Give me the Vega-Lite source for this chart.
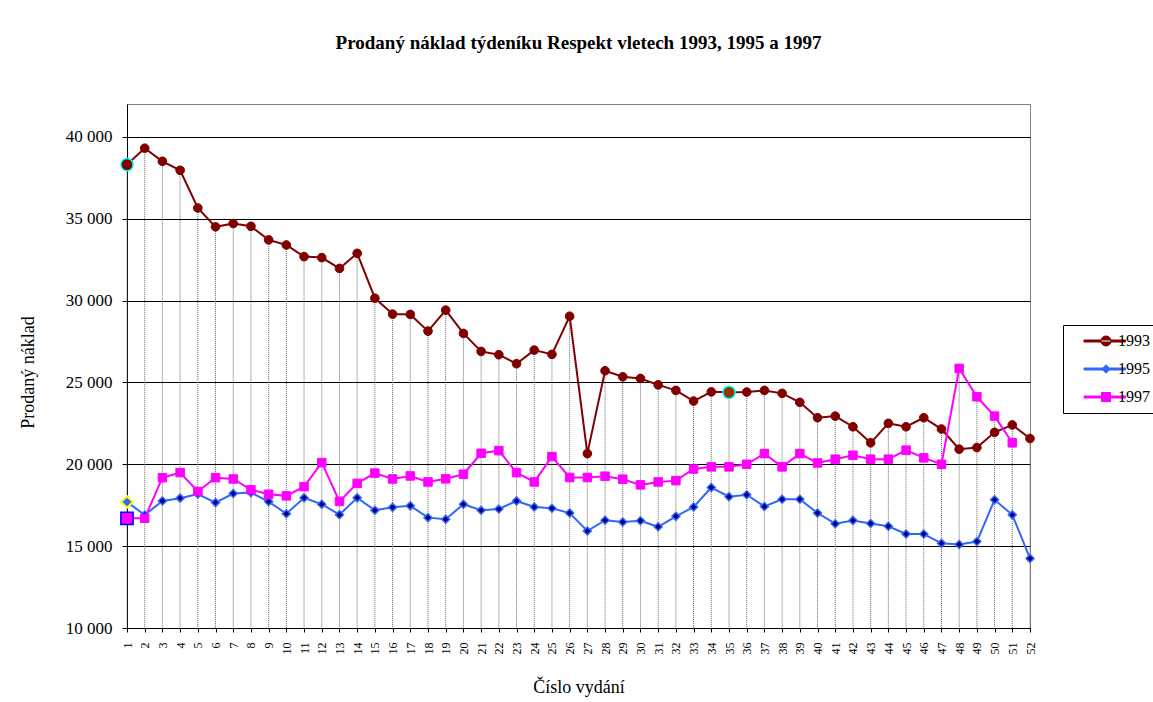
{
  "$schema": "https://vega.github.io/schema/vega-lite/v6.json",
  "autosize": {"type": "none"},
  "width": 903,
  "height": 524,
  "padding": {"left": 127, "top": 104, "right": 123, "bottom": 74},
  "background": "white",
  "title": {"text": "Prodaný náklad týdeníku Respekt vletech 1993, 1995 a 1997", "font": "Liberation Serif", "fontSize": 19, "fontWeight": "bold", "color": "black", "anchor": "middle", "baseline": "alphabetic", "offset": 36},
  "data": {"values": [
    {"n":1,"1993":38300,"1995":17700,"1997":16700},
    {"n":2,"1993":39300,"1995":16900,"1997":16700},
    {"n":3,"1993":38500,"1995":17760,"1997":19180},
    {"n":4,"1993":37950,"1995":17930,"1997":19490},
    {"n":5,"1993":35650,"1995":18180,"1997":18340},
    {"n":6,"1993":34500,"1995":17660,"1997":19180},
    {"n":7,"1993":34700,"1995":18210,"1997":19100},
    {"n":8,"1993":34530,"1995":18270,"1997":18440},
    {"n":9,"1993":33700,"1995":17720,"1997":18170},
    {"n":10,"1993":33390,"1995":16980,"1997":18070},
    {"n":11,"1993":32680,"1995":17950,"1997":18630},
    {"n":12,"1993":32620,"1995":17560,"1997":20100},
    {"n":13,"1993":31960,"1995":16920,"1997":17730},
    {"n":14,"1993":32880,"1995":17950,"1997":18830},
    {"n":15,"1993":30140,"1995":17190,"1997":19460},
    {"n":16,"1993":29170,"1995":17370,"1997":19100},
    {"n":17,"1993":29150,"1995":17460,"1997":19285},
    {"n":18,"1993":28130,"1995":16740,"1997":18920},
    {"n":19,"1993":29410,"1995":16640,"1997":19110},
    {"n":20,"1993":27990,"1995":17560,"1997":19390},
    {"n":21,"1993":26890,"1995":17190,"1997":20670},
    {"n":22,"1993":26690,"1995":17270,"1997":20830},
    {"n":23,"1993":26140,"1995":17760,"1997":19490},
    {"n":24,"1993":26970,"1995":17390,"1997":18920},
    {"n":25,"1993":26710,"1995":17310,"1997":20470},
    {"n":26,"1993":29040,"1995":17020,"1997":19190},
    {"n":27,"1993":20650,"1995":15920,"1997":19190},
    {"n":28,"1993":25710,"1995":16580,"1997":19270},
    {"n":29,"1993":25340,"1995":16470,"1997":19090},
    {"n":30,"1993":25240,"1995":16550,"1997":18740},
    {"n":31,"1993":24850,"1995":16180,"1997":18920},
    {"n":32,"1993":24510,"1995":16820,"1997":19000},
    {"n":33,"1993":23860,"1995":17390,"1997":19710},
    {"n":34,"1993":24420,"1995":18580,"1997":19840},
    {"n":35,"1993":24390,"1995":18020,"1997":19840},
    {"n":36,"1993":24410,"1995":18140,"1997":20000},
    {"n":37,"1993":24510,"1995":17420,"1997":20650},
    {"n":38,"1993":24330,"1995":17860,"1997":19840},
    {"n":39,"1993":23780,"1995":17860,"1997":20650},
    {"n":40,"1993":22840,"1995":17020,"1997":20080},
    {"n":41,"1993":22940,"1995":16370,"1997":20310},
    {"n":42,"1993":22290,"1995":16570,"1997":20550},
    {"n":43,"1993":21310,"1995":16380,"1997":20310},
    {"n":44,"1993":22500,"1995":16210,"1997":20310},
    {"n":45,"1993":22290,"1995":15740,"1997":20860},
    {"n":46,"1993":22840,"1995":15740,"1997":20390},
    {"n":47,"1993":22150,"1995":15170,"1997":20000},
    {"n":48,"1993":20920,"1995":15100,"1997":25850},
    {"n":49,"1993":21020,"1995":15280,"1997":24120},
    {"n":50,"1993":21950,"1995":17830,"1997":22940},
    {"n":51,"1993":22400,"1995":16910,"1997":21310},
    {"n":52,"1993":21570,"1995":14250}
  ]},
  "transform": [
    {"fold": ["1993", "1995", "1997"], "as": ["year", "value"]},
    {"filter": "isValid(datum.value)"}
  ],
  "encoding": {
    "x": {"field": "n", "type": "ordinal", "scale": {"type": "point", "padding": 0},
      "axis": {"title": "Číslo vydání", "labelAngle": -90, "labelFontSize": 12, "labelPadding": 10, "tickSize": 4, "titlePadding": 24, "titleFontSize": 18, "titleFontWeight": "normal", "grid": false}},
    "y": {"field": "value", "type": "quantitative", "scale": {"domain": [10000, 42000], "nice": false, "zero": false},
      "axis": {"title": "Prodaný náklad", "values": [10000, 15000, 20000, 25000, 30000, 35000, 40000], "labelExpr": "replace(format(datum.value, ','), ',', ' ')", "labelFontSize": 17, "labelPadding": 10, "tickSize": 5, "grid": true, "gridColor": "black", "gridOpacity": 1, "titlePadding": 28, "titleFontSize": 18, "titleFontWeight": "normal", "titleY": 268}}
  },
  "layer": [
    {
      "transform": [{"aggregate": [{"op": "max", "field": "value", "as": "value"}], "groupby": ["n"]}],
      "mark": {"type": "rule", "stroke": "#666666", "strokeWidth": 1, "strokeDash": [1, 1]},
      "encoding": {
        "y2": {"datum": 10000}
      }
    },
    {
      "mark": {"type": "line", "strokeWidth": 2},
      "encoding": {
        "stroke": {"field": "year", "type": "nominal",
          "scale": {"domain": ["1993", "1995", "1997"], "range": ["#800000", "#3366ff", "#ff00ff"]},
          "legend": {
            "orient": "none", "legendX": 936, "legendY": 221, "title": null,
            "labelFont": "Liberation Serif", "labelFontSize": 16, "labelColor": "black",
            "labelOffset": 31, "rowPadding": 12, "padding": 8,
            "strokeColor": "black", "fillColor": "white",
            "symbolSize": 100, "symbolStrokeWidth": 1,
            "encode": {"symbols": {"update": {
              "shape": {"signal": "datum.value=='1993' ? 'M1,-0.2H9.3V0.2H1ZM4.4,0A1,1 0 1,0 6.4,0A1,1 0 1,0 4.4,0Z' : datum.value=='1995' ? 'M1,-0.2H9.3V0.2H1ZM5.4,-0.85L6.25,0L5.4,0.85L4.55,0Z' : 'M1,-0.2H9.3V0.2H1ZM4.5,-0.9H6.3V0.9H4.5Z'"},
              "fill": {"signal": "datum.value=='1993' ? '#800000' : datum.value=='1995' ? '#3366ff' : '#ff00ff'"},
              "stroke": {"signal": "datum.value=='1993' ? '#800000' : datum.value=='1995' ? '#3366ff' : '#ff00ff'"},
              "strokeWidth": {"value": 1},
              "size": {"value": 100},
              "opacity": {"value": 1},
              "fillOpacity": {"value": 1}
            }}}
          }
        }
      }
    },
    {
      "transform": [{"filter": "datum.year == '1993'"}],
      "mark": {"type": "point", "shape": "circle", "size": 75, "fill": "#800000", "stroke": "#800000", "strokeWidth": 1, "opacity": 1}
    },
    {
      "transform": [{"filter": "datum.year == '1995'"}],
      "mark": {"type": "point", "shape": "diamond", "size": 64, "fill": "#000080", "stroke": "#3366ff", "strokeWidth": 1.5, "opacity": 1}
    },
    {
      "transform": [{"filter": "datum.year == '1997'"}],
      "mark": {"type": "point", "shape": "square", "size": 72, "fill": "#ff00ff", "stroke": "#ff00ff", "strokeWidth": 1, "opacity": 1}
    },
    {
      "transform": [{"filter": "datum.year == '1993' && datum.n == 1"}],
      "mark": {"type": "point", "shape": "circle", "size": 150, "fill": "#800000", "stroke": "#00ffff", "strokeWidth": 1.5, "opacity": 1}
    },
    {
      "transform": [{"filter": "datum.year == '1993' && datum.n == 35"}],
      "mark": {"type": "point", "shape": "circle", "size": 150, "fill": "#993300", "stroke": "#00ffff", "strokeWidth": 1.5, "opacity": 1}
    },
    {
      "transform": [{"filter": "datum.year == '1995' && datum.n == 1"}],
      "mark": {"type": "point", "shape": "diamond", "size": 130, "fill": "#3366ff", "stroke": "#ffff00", "strokeWidth": 2, "opacity": 1}
    },
    {
      "transform": [{"filter": "datum.year == '1997' && datum.n == 1"}],
      "mark": {"type": "point", "shape": "square", "size": 150, "fill": "#ff00ff", "stroke": "#0000ff", "strokeWidth": 1.5, "opacity": 1}
    }
  ],
  "config": {
    "font": "Liberation Serif",
    "view": {"stroke": "#808080", "strokeWidth": 1},
    "axis": {"labelFont": "Liberation Serif", "titleFont": "Liberation Serif", "labelColor": "black", "titleColor": "black", "domainColor": "black", "tickColor": "black", "domainWidth": 1, "tickWidth": 1},
    "legend": {"labelFont": "Liberation Serif"}
  }
}
